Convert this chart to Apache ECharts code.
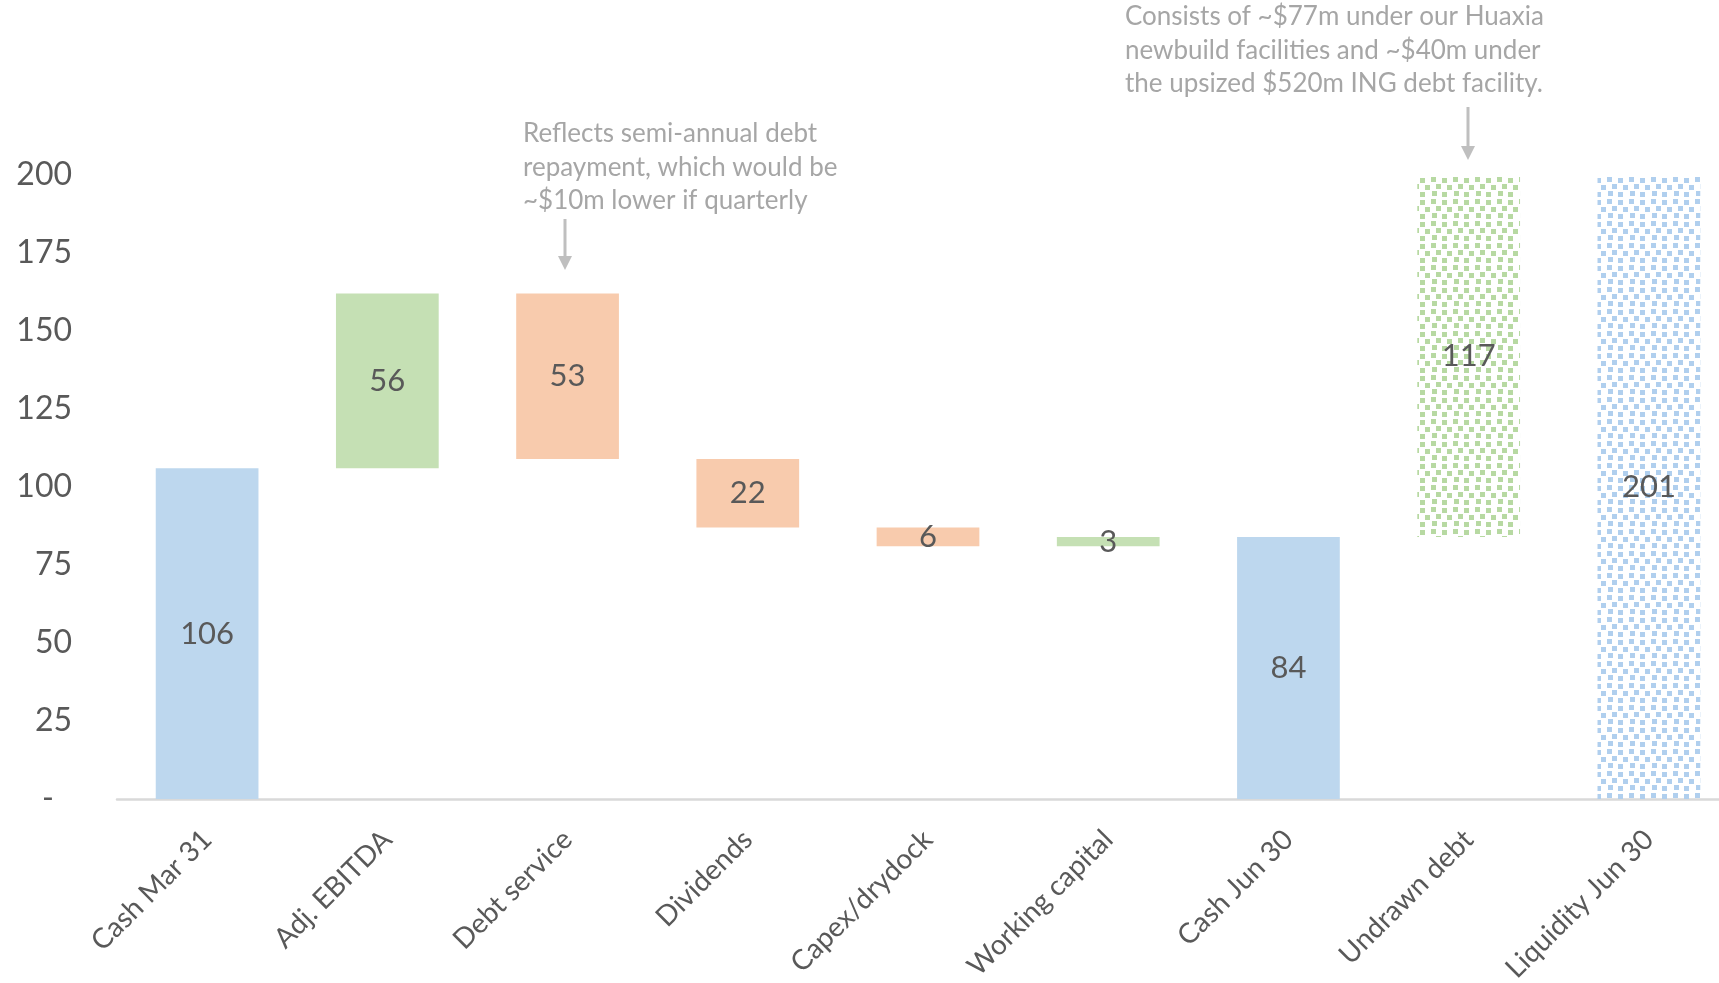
<!DOCTYPE html>
<html>
<head>
<meta charset="utf-8">
<title>Liquidity bridge</title>
<script src="https://cdn.jsdelivr.net/npm/echarts/dist/echarts.min.js"></script>
<style>
  html, body { margin: 0; padding: 0; background: #ffffff; }
  #chart { width: 1719px; height: 983px; }
</style>
</head>
<body>
<div id="chart"></div>
<script>
// Bridge from cash at Mar 31 to liquidity at Jun 30 (USD m)
const categories = ['Cash Mar 31', 'Adj. EBITDA', 'Debt service', 'Dividends', 'Capex/drydock',
                    'Working capital', 'Cash Jun 30', 'Undrawn debt', 'Liquidity Jun 30'];
const amounts = [106, 56, 53, 22, 6, 3, 84, 117, 201];
const steps = ['total', 'increase', 'decrease', 'decrease', 'decrease', 'increase', 'total', 'increase', 'total'];
const yMin = 0, yMax = 200, yStep = 25;

const FONT = 'Lato';
const TEXT = '#595959';
const NOTE = '#A6A6A6';

// Floating bars: an invisible base plus the visible step on top
const bases = [];
let running = 0;
amounts.forEach((v, i) => {
  if (steps[i] === 'total') { bases.push(0); running = v; }
  else if (steps[i] === 'increase') { bases.push(running); running += v; }
  else { running -= v; bases.push(running); }
});

// Confetti fill for the undrawn / liquidity bars
function confetti(color) {
  const c = document.createElement('canvas');
  c.width = 22; c.height = 22;
  const g = c.getContext('2d');
  g.fillStyle = color;
  [[1, 1], [12, 2], [6, 8], [17, 9], [2, 15], [12, 16]].forEach(([x, y]) => g.fillRect(x, y, 5, 5));
  return { image: c, repeat: 'repeat' };
}
const patternedBars = new Set(['Undrawn debt', 'Liquidity Jun 30']);
const solid = { total: '#BDD7EE', increase: '#C5E0B4', decrease: '#F8CBAD' };
const dotted = { total: confetti('#B0CFEE'), increase: confetti('#B7D9A2') };

function fillFor(i) {
  return patternedBars.has(categories[i]) ? dotted[steps[i]] : solid[steps[i]];
}

const chart = echarts.init(document.getElementById('chart'), null, { renderer: 'canvas' });

chart.setOption({
  backgroundColor: '#ffffff',
  animation: false,
  grid: { left: 117, top: 175, bottom: 184, width: 1622, outerBoundsMode: 'none' },
  xAxis: {
    type: 'category',
    data: categories,
    axisLine: { lineStyle: { color: '#D9D9D9', width: 2.5 } },
    axisTick: { show: false },
    axisLabel: {
      interval: 0, rotate: 45, margin: 36,
      fontFamily: FONT, fontSize: 28, color: TEXT
    }
  },
  yAxis: {
    type: 'value',
    min: yMin, max: yMax, interval: yStep,
    axisLine: { show: false },
    axisTick: { show: false },
    splitLine: { show: false },
    axisLabel: {
      margin: 45, fontFamily: FONT, fontSize: 32, color: TEXT,
      formatter: v => v === 0 ? '{z|-}' : String(v),
      rich: { z: { fontFamily: FONT, fontSize: 32, color: TEXT, padding: [0, 18, 0, 0] } }
    }
  },
  series: [
    {
      type: 'bar', stack: 'bridge', silent: true,
      barWidth: '57%',
      itemStyle: { color: 'transparent' },
      data: bases
    },
    {
      type: 'bar', stack: 'bridge',
      barWidth: '57%',
      data: amounts.map((v, i) => ({ value: v, itemStyle: { color: fillFor(i) } })),
      label: {
        show: true, position: 'inside',
        fontFamily: FONT, fontSize: 31, color: TEXT,
        formatter: p => String(amounts[p.dataIndex])
      }
    }
  ],
  graphic: [
    {
      type: 'text', left: 523, top: 117,
      style: {
        text: 'Reflects semi-annual debt\nrepayment, which would be\n~$10m lower if quarterly',
        font: '26px Lato', fill: NOTE, lineHeight: 33.5
      }
    },
    { type: 'line', shape: { x1: 565, y1: 219, x2: 565, y2: 258 }, style: { stroke: '#BFBFBF', lineWidth: 3 } },
    { type: 'polygon', shape: { points: [[558, 256], [572, 256], [565, 270]] }, style: { fill: '#BFBFBF' } },
    {
      type: 'text', left: 1125, top: 0,
      style: {
        text: 'Consists of ~$77m under our Huaxia\nnewbuild facilities and ~$40m under\nthe upsized $520m ING debt facility.',
        font: '26px Lato', fill: NOTE, lineHeight: 33.5
      }
    },
    { type: 'line', shape: { x1: 1468, y1: 107, x2: 1468, y2: 148 }, style: { stroke: '#BFBFBF', lineWidth: 3 } },
    { type: 'polygon', shape: { points: [[1461, 146], [1475, 146], [1468, 160]] }, style: { fill: '#BFBFBF' } }
  ]
});
</script>
</body>
</html>
